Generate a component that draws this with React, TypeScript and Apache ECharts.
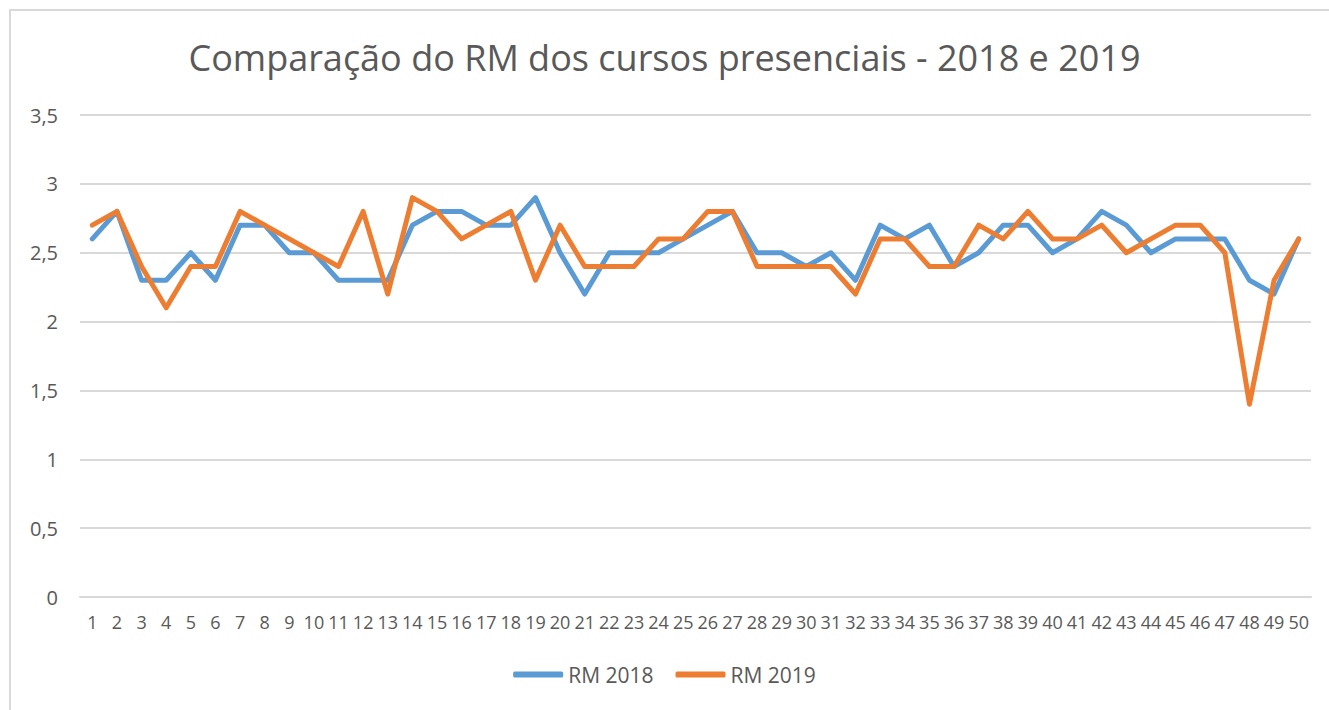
import React, { useEffect, useRef } from "react";
import * as echarts from "echarts";

const categories: string[] = Array.from({ length: 50 }, (_, i) => String(i + 1));

const rm2018: number[] = [
  2.6, 2.8, 2.3, 2.3, 2.5, 2.3, 2.7, 2.7, 2.5, 2.5,
  2.3, 2.3, 2.3, 2.7, 2.8, 2.8, 2.7, 2.7, 2.9, 2.5,
  2.2, 2.5, 2.5, 2.5, 2.6, 2.7, 2.8, 2.5, 2.5, 2.4,
  2.5, 2.3, 2.7, 2.6, 2.7, 2.4, 2.5, 2.7, 2.7, 2.5,
  2.6, 2.8, 2.7, 2.5, 2.6, 2.6, 2.6, 2.3, 2.2, 2.6,
];

const rm2019: number[] = [
  2.7, 2.8, 2.4, 2.1, 2.4, 2.4, 2.8, 2.7, 2.6, 2.5,
  2.4, 2.8, 2.2, 2.9, 2.8, 2.6, 2.7, 2.8, 2.3, 2.7,
  2.4, 2.4, 2.4, 2.6, 2.6, 2.8, 2.8, 2.4, 2.4, 2.4,
  2.4, 2.2, 2.6, 2.6, 2.4, 2.4, 2.7, 2.6, 2.8, 2.6,
  2.6, 2.7, 2.5, 2.6, 2.7, 2.7, 2.5, 1.4, 2.3, 2.6,
];

const seriesNames = ["RM 2018", "RM 2019"];
const titleText = "Comparação do RM dos cursos presenciais - 2018 e 2019";

const FONT = "'Open Sans', 'Noto Sans', sans-serif";
const GRAY = "#595959";

export default function App() {
  const ref = useRef<HTMLDivElement>(null);

  useEffect(() => {
    if (!ref.current) return;
    const chart = echarts.init(ref.current, undefined, { renderer: "svg" });
    chart.setOption({
      animation: false,
      backgroundColor: "#ffffff",
      textStyle: { fontFamily: FONT },
      graphic: [
        {
          type: "rect",
          shape: { x: 10, y: 10, width: 1340, height: 720 },
          style: { fill: "none", stroke: "#d9d9d9", lineWidth: 2 },
          silent: true,
        },
      ],
      title: {
        text: titleText,
        left: "center",
        top: 34,
        textStyle: {
          fontFamily: FONT,
          fontSize: 36,
          fontWeight: "normal",
          color: GRAY,
        },
      },
      legend: {
        data: seriesNames,
        bottom: 20,
        left: "center",
        icon: "roundRect",
        itemWidth: 50,
        itemHeight: 6,
        itemGap: 22,
        textStyle: { fontFamily: FONT, fontSize: 21, color: GRAY },
      },
      grid: {
        left: 80,
        right: 18,
        top: 115,
        bottom: 113,
        containLabel: false,
      },
      xAxis: {
        type: "category",
        data: categories,
        boundaryGap: true,
        axisLine: { show: true, lineStyle: { color: "#d9d9d9", width: 2 } },
        axisTick: { show: false },
        axisLabel: {
          interval: 0,
          color: GRAY,
          fontFamily: FONT,
          fontSize: 18,
          margin: 16,
        },
      },
      yAxis: {
        type: "value",
        min: 0,
        max: 3.5,
        interval: 0.5,
        axisLine: { show: false },
        axisTick: { show: false },
        splitLine: { lineStyle: { color: "#d9d9d9", width: 2 } },
        axisLabel: {
          color: GRAY,
          fontFamily: FONT,
          fontSize: 20,
          margin: 22,
          formatter: (v: number) => String(v).replace(".", ","),
        },
      },
      series: [
        {
          name: seriesNames[0],
          type: "line",
          data: rm2018,
          showSymbol: false,
          symbol: "none",
          itemStyle: { color: "#5B9BD5" },
          lineStyle: { color: "#5B9BD5", width: 5, join: "round", cap: "round" },
        },
        {
          name: seriesNames[1],
          type: "line",
          data: rm2019,
          showSymbol: false,
          symbol: "none",
          itemStyle: { color: "#ED7D31" },
          lineStyle: { color: "#ED7D31", width: 5, join: "round", cap: "round" },
        },
      ],
    });
    return () => chart.dispose();
  }, []);

  return (
    <div
      ref={ref}
      style={{ position: "fixed", left: 0, top: 0, width: 1329, height: 710 }}
    />
  );
}
